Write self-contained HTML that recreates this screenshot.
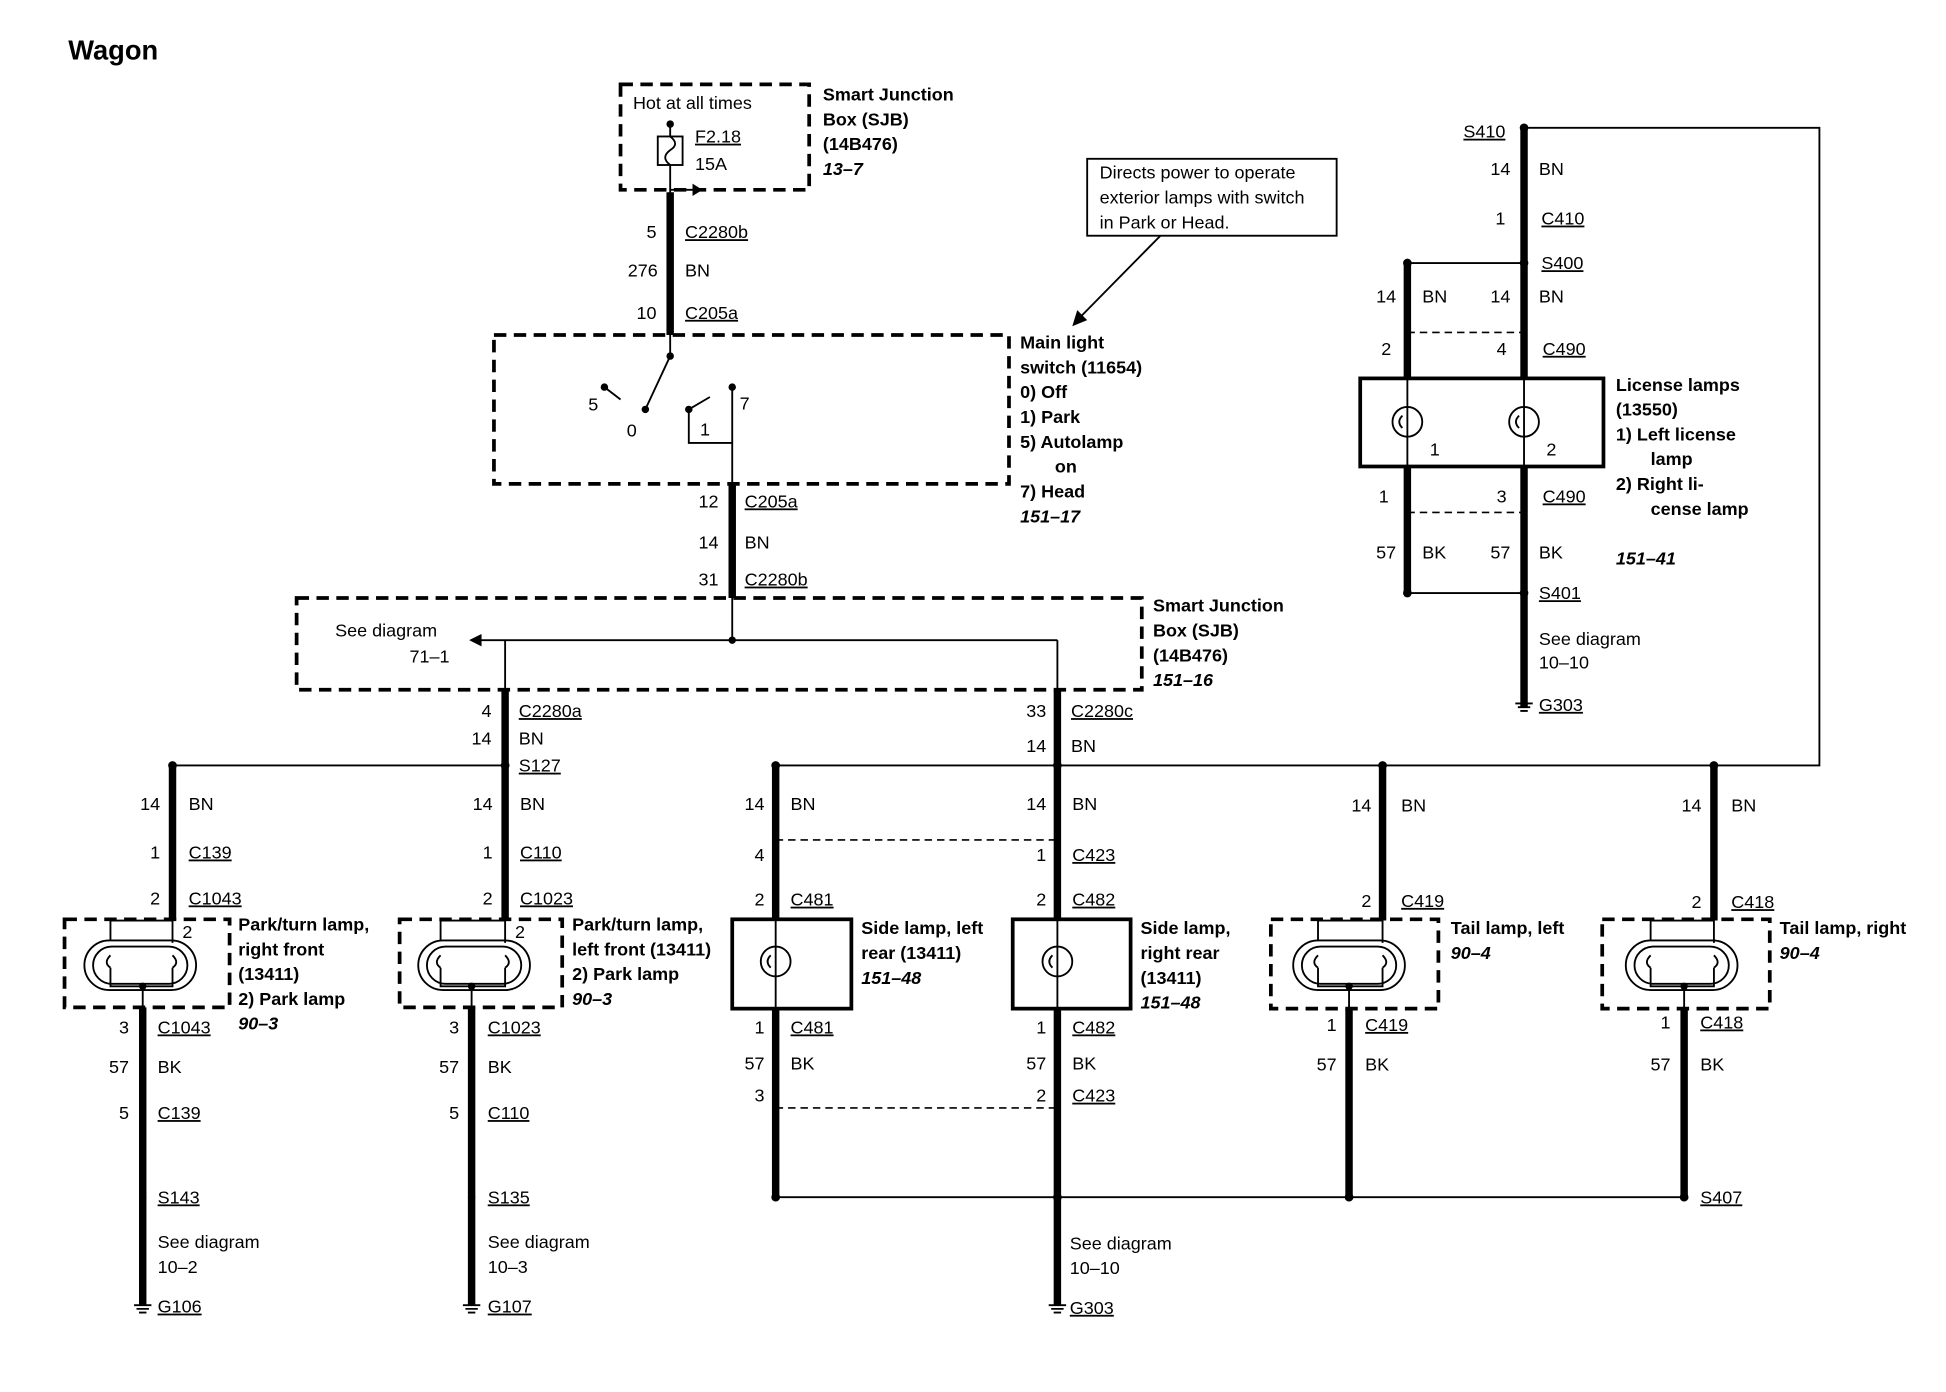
<!DOCTYPE html>
<html><head><meta charset="utf-8"><style>
html,body{margin:0;padding:0;background:#fff}
svg{display:block}
text{font-family:"Liberation Sans",sans-serif;font-size:14.5px;fill:#000}
.b{font-weight:bold}
.i{font-weight:bold;font-style:italic}
.u{text-decoration:underline}
.r{text-anchor:end}
.th{stroke:#000;stroke-width:6;fill:none}
.tn{stroke:#000;stroke-width:1.5;fill:none}
.ds{stroke:#000;stroke-width:3;fill:none;stroke-dasharray:10 6}
.dt{stroke:#000;stroke-width:1.3;fill:none;stroke-dasharray:6 4}
.bx{stroke:#000;stroke-width:3;fill:none}
</style></head><body>
<svg width="1946" height="1392" viewBox="0 0 1568 1122" preserveAspectRatio="none" xmlns="http://www.w3.org/2000/svg">
<text x="55" y="48" class="b" style="font-size:22px">Wagon</text>

<!-- top SJB -->
<rect x="500" y="68" width="152" height="85" class="ds"/>
<text x="510" y="88">Hot at all times</text>
<line x1="540" y1="100" x2="540" y2="110" class="tn"/>
<circle cx="540" cy="100" r="3"/>
<rect x="530" y="110" width="20" height="23" class="tn"/>
<path d="M540 110 q8 6 0 11 q-8 6 0 12" class="tn"/>
<line x1="540" y1="133" x2="540" y2="270" class="tn"/>
<line x1="540" y1="153" x2="562" y2="153" class="tn"/><path d="M558 148 L566 153 L558 158 Z"/>
<text x="560" y="115" class="u">F2.18</text><text x="560" y="137">15A</text>
<text x="663" y="81" class="b">Smart Junction</text>
<text x="663" y="101" class="b">Box (SJB)</text>
<text x="663" y="121" class="b">(14B476)</text>
<text x="663" y="141" class="i">13–7</text>
<line x1="540" y1="155" x2="540" y2="270" class="th"/>
<text x="529" y="192" class="r">5</text><text x="552" y="192" class="u">C2280b</text>
<text x="530" y="223" class="r">276</text><text x="552" y="223">BN</text>
<text x="529" y="257" class="r">10</text><text x="552" y="257" class="u">C205a</text>

<!-- callout -->
<rect x="876" y="128" width="201" height="62" class="tn"/>
<text x="886" y="144">Directs power to operate</text>
<text x="886" y="164">exterior lamps with switch</text>
<text x="886" y="184">in Park or Head.</text>
<line x1="935" y1="190" x2="870" y2="256" class="tn"/><path d="M864 263 L868 250 L876 258 Z"/>

<!-- main switch -->
<rect x="398" y="270" width="415" height="120" class="ds"/>
<line x1="540" y1="270" x2="540" y2="287" class="tn"/>
<line x1="540" y1="287" x2="520" y2="330" class="tn"/>
<circle cx="540" cy="287" r="3"/><circle cx="520" cy="330" r="3"/>
<circle cx="487" cy="312" r="3"/><line x1="487" y1="312" x2="500" y2="322" class="tn"/>
<circle cx="555" cy="330" r="3"/><circle cx="590" cy="312" r="3"/>
<line x1="555" y1="330" x2="572" y2="320" class="tn"/>
<polyline points="555,330 555,357 590,357" class="tn"/>
<line x1="590" y1="312" x2="590" y2="390" class="tn"/>
<text x="474" y="331">5</text><text x="505" y="352">0</text><text x="564" y="351">1</text><text x="596" y="330">7</text>
<text x="822" y="281" class="b">Main light</text>
<text x="822" y="301" class="b">switch (11654)</text>
<text x="822" y="321" class="b">0)   Off</text>
<text x="822" y="341" class="b">1)   Park</text>
<text x="822" y="361" class="b">5)   Autolamp</text>
<text x="850" y="381" class="b">on</text>
<text x="822" y="401" class="b">7)   Head</text>
<text x="822" y="421" class="i">151–17</text>
<line x1="590" y1="390" x2="590" y2="482" class="th"/>
<line x1="590" y1="482" x2="590" y2="516" class="tn"/>
<text x="579" y="409" class="r">12</text><text x="600" y="409" class="u">C205a</text>
<text x="579" y="442" class="r">14</text><text x="600" y="442">BN</text>
<text x="579" y="472" class="r">31</text><text x="600" y="472" class="u">C2280b</text>

<!-- SJB 2 -->
<rect x="239" y="482" width="681" height="74" class="ds"/>
<text x="270" y="513">See diagram</text><text x="330" y="534">71–1</text>
<line x1="385" y1="516" x2="852" y2="516" class="tn"/><path d="M378 516 L388 511 L388 521 Z"/>
<circle cx="590" cy="516" r="3"/>
<line x1="407" y1="516" x2="407" y2="556" class="tn"/>
<line x1="852" y1="516" x2="852" y2="556" class="tn"/>
<text x="929" y="493" class="b">Smart Junction</text>
<text x="929" y="513" class="b">Box (SJB)</text>
<text x="929" y="533" class="b">(14B476)</text>
<text x="929" y="553" class="i">151–16</text>
<line x1="407" y1="556" x2="407" y2="617" class="th"/>
<text x="396" y="578" class="r">4</text><text x="418" y="578" class="u">C2280a</text>
<text x="396" y="600" class="r">14</text><text x="418" y="600">BN</text>
<text x="418" y="622" class="u">S127</text>
<line x1="852" y1="556" x2="852" y2="617" class="th"/>
<text x="843" y="578" class="r">33</text><text x="863" y="578" class="u">C2280c</text>
<text x="843" y="606" class="r">14</text><text x="863" y="606">BN</text>

<!-- bus -->
<line x1="139" y1="617" x2="407" y2="617" class="tn"/>
<polyline points="625,617 1466,617 1466,103 1228,103" class="tn"/>
<g><circle cx="139" cy="617" r="3.5"/><circle cx="407" cy="617" r="3.5"/><circle cx="625" cy="617" r="3.5"/><circle cx="852" cy="617" r="3.5"/><circle cx="1114" cy="617" r="3.5"/><circle cx="1381" cy="617" r="3.5"/><circle cx="1228" cy="103" r="3.5"/></g>

<!-- col 139 -->
<line x1="139" y1="617" x2="139" y2="742" class="th"/>
<text x="129" y="653" class="r">14</text><text x="152" y="653">BN</text>
<text x="129" y="692" class="r">1</text><text x="152" y="692" class="u">C139</text>
<text x="129" y="729" class="r">2</text><text x="152" y="729" class="u">C1043</text>
<rect x="52" y="741" width="133" height="71" class="ds"/>
<polyline points="89,758 89,742 139,742 139,760" class="tn"/>
<rect x="68" y="758" width="90" height="40" rx="20" class="tn"/>
<rect x="75" y="763" width="76" height="30" rx="15" class="tn"/>
<path d="M89 770 q-6 6 0 10 M139 770 q6 6 0 10" class="tn"/>
<polyline points="89,780 89,795 139,795 139,780" class="tn"/>
<text x="147" y="756">2</text>
<circle cx="115" cy="795" r="3"/>
<line x1="115" y1="795" x2="115" y2="812" class="tn"/>
<line x1="115" y1="812" x2="115" y2="1052" class="th"/>
<text x="192" y="750" class="b">Park/turn lamp,</text>
<text x="192" y="770" class="b">right front</text>
<text x="192" y="790" class="b">(13411)</text>
<text x="192" y="810" class="b">2)   Park lamp</text>
<text x="192" y="830" class="i">90–3</text>
<text x="104" y="833" class="r">3</text><text x="127" y="833" class="u">C1043</text>
<text x="104" y="865" class="r">57</text><text x="127" y="865">BK</text>
<text x="104" y="902" class="r">5</text><text x="127" y="902" class="u">C139</text>
<circle cx="115" cy="965" r="3"/>
<text x="127" y="970" class="u">S143</text>
<text x="127" y="1006">See diagram</text><text x="127" y="1026">10–2</text>
<text x="127" y="1058" class="u">G106</text>
<path d="M108 1052 h14 M110 1055 h10 M112 1058 h6" class="tn"/>

<!-- col 407 -->
<line x1="407" y1="617" x2="407" y2="742" class="th"/>
<text x="397" y="653" class="r">14</text><text x="419" y="653">BN</text>
<text x="397" y="692" class="r">1</text><text x="419" y="692" class="u">C110</text>
<text x="397" y="729" class="r">2</text><text x="419" y="729" class="u">C1023</text>
<rect x="322" y="741" width="131" height="71" class="ds"/>
<polyline points="355,758 355,742 407,742 407,760" class="tn"/>
<rect x="337" y="758" width="90" height="40" rx="20" class="tn"/>
<rect x="344" y="763" width="76" height="30" rx="15" class="tn"/>
<path d="M355 770 q-6 6 0 10 M407 770 q6 6 0 10" class="tn"/>
<polyline points="355,780 355,795 407,795 407,780" class="tn"/>
<text x="415" y="756">2</text>
<circle cx="380" cy="795" r="3"/>
<line x1="380" y1="795" x2="380" y2="812" class="tn"/>
<line x1="380" y1="812" x2="380" y2="1052" class="th"/>
<text x="461" y="750" class="b">Park/turn lamp,</text>
<text x="461" y="770" class="b">left front (13411)</text>
<text x="461" y="790" class="b">2)   Park lamp</text>
<text x="461" y="810" class="i">90–3</text>
<text x="370" y="833" class="r">3</text><text x="393" y="833" class="u">C1023</text>
<text x="370" y="865" class="r">57</text><text x="393" y="865">BK</text>
<text x="370" y="902" class="r">5</text><text x="393" y="902" class="u">C110</text>
<circle cx="380" cy="965" r="3"/>
<text x="393" y="970" class="u">S135</text>
<text x="393" y="1006">See diagram</text><text x="393" y="1026">10–3</text>
<text x="393" y="1058" class="u">G107</text>
<path d="M373 1052 h14 M375 1055 h10 M377 1058 h6" class="tn"/>

<!-- col 625 -->
<line x1="625" y1="617" x2="625" y2="741" class="th"/>
<text x="616" y="653" class="r">14</text><text x="637" y="653">BN</text>
<text x="616" y="694" class="r">4</text>
<line x1="625" y1="677" x2="852" y2="677" class="dt"/>
<text x="616" y="730" class="r">2</text><text x="637" y="730" class="u">C481</text>
<rect x="590" y="741" width="96" height="72" class="bx"/>
<line x1="625" y1="741" x2="625" y2="813" class="tn"/>
<circle cx="625" cy="775" r="12" class="tn"/>
<path d="M621 770 q-5 5 0 10" class="tn"/>
<text x="694" y="753" class="b">Side lamp, left</text>
<text x="694" y="773" class="b">rear (13411)</text>
<text x="694" y="793" class="i">151–48</text>
<line x1="625" y1="813" x2="625" y2="965" class="th"/>
<text x="616" y="833" class="r">1</text><text x="637" y="833" class="u">C481</text>
<text x="616" y="862" class="r">57</text><text x="637" y="862">BK</text>
<text x="616" y="888" class="r">3</text>
<line x1="625" y1="893" x2="852" y2="893" class="dt"/>

<!-- col 852 -->
<line x1="852" y1="617" x2="852" y2="741" class="th"/>
<text x="843" y="653" class="r">14</text><text x="864" y="653">BN</text>
<text x="843" y="694" class="r">1</text><text x="864" y="694" class="u">C423</text>
<text x="843" y="730" class="r">2</text><text x="864" y="730" class="u">C482</text>
<rect x="816" y="741" width="95" height="72" class="bx"/>
<line x1="852" y1="741" x2="852" y2="813" class="tn"/>
<circle cx="852" cy="775" r="12" class="tn"/>
<path d="M848 770 q-5 5 0 10" class="tn"/>
<text x="919" y="753" class="b">Side lamp,</text>
<text x="919" y="773" class="b">right rear</text>
<text x="919" y="793" class="b">(13411)</text>
<text x="919" y="813" class="i">151–48</text>
<line x1="852" y1="813" x2="852" y2="1052" class="th"/>
<text x="843" y="833" class="r">1</text><text x="864" y="833" class="u">C482</text>
<text x="843" y="862" class="r">57</text><text x="864" y="862">BK</text>
<text x="843" y="888" class="r">2</text><text x="864" y="888" class="u">C423</text>
<text x="862" y="1007">See diagram</text><text x="862" y="1027">10–10</text>
<text x="862" y="1059" class="u">G303</text>
<path d="M845 1052 h14 M847 1055 h10 M849 1058 h6" class="tn"/>

<!-- col 1114 -->
<line x1="1114" y1="617" x2="1114" y2="742" class="th"/>
<text x="1105" y="654" class="r">14</text><text x="1129" y="654">BN</text>
<text x="1105" y="731" class="r">2</text><text x="1129" y="731" class="u">C419</text>
<rect x="1024" y="741" width="135" height="72" class="ds"/>
<polyline points="1062,758 1062,742 1114,742 1114,760" class="tn"/>
<rect x="1042" y="758" width="90" height="40" rx="20" class="tn"/>
<rect x="1049" y="763" width="76" height="30" rx="15" class="tn"/>
<path d="M1062 770 q-6 6 0 10 M1114 770 q6 6 0 10" class="tn"/>
<polyline points="1062,780 1062,795 1114,795 1114,780" class="tn"/>
<circle cx="1087" cy="795" r="3"/>
<line x1="1087" y1="795" x2="1087" y2="813" class="tn"/>
<line x1="1087" y1="813" x2="1087" y2="965" class="th"/>
<text x="1169" y="753" class="b">Tail lamp, left</text>
<text x="1169" y="773" class="i">90–4</text>
<text x="1077" y="831" class="r">1</text><text x="1100" y="831" class="u">C419</text>
<text x="1077" y="863" class="r">57</text><text x="1100" y="863">BK</text>

<!-- col 1381 -->
<line x1="1381" y1="617" x2="1381" y2="742" class="th"/>
<text x="1371" y="654" class="r">14</text><text x="1395" y="654">BN</text>
<text x="1371" y="732" class="r">2</text><text x="1395" y="732" class="u">C418</text>
<rect x="1291" y="741" width="135" height="72" class="ds"/>
<polyline points="1330,758 1330,742 1381,742 1381,760" class="tn"/>
<rect x="1310" y="758" width="90" height="40" rx="20" class="tn"/>
<rect x="1317" y="763" width="76" height="30" rx="15" class="tn"/>
<path d="M1330 770 q-6 6 0 10 M1381 770 q6 6 0 10" class="tn"/>
<polyline points="1330,780 1330,795 1381,795 1381,780" class="tn"/>
<circle cx="1357" cy="795" r="3"/>
<line x1="1357" y1="795" x2="1357" y2="813" class="tn"/>
<line x1="1357" y1="813" x2="1357" y2="965" class="th"/>
<text x="1434" y="753" class="b">Tail lamp, right</text>
<text x="1434" y="773" class="i">90–4</text>
<text x="1346" y="829" class="r">1</text><text x="1370" y="829" class="u">C418</text>
<text x="1346" y="863" class="r">57</text><text x="1370" y="863">BK</text>
<text x="1370" y="970" class="u">S407</text>

<line x1="625" y1="965" x2="1357" y2="965" class="tn"/>
<g><circle cx="625" cy="965" r="3.5"/><circle cx="852" cy="965" r="3.5"/><circle cx="1087" cy="965" r="3.5"/><circle cx="1357" cy="965" r="3.5"/></g>

<!-- license -->
<text x="1213" y="111" class="r u">S410</text>
<line x1="1228" y1="103" x2="1228" y2="305" class="th"/>
<text x="1217" y="141" class="r">14</text><text x="1240" y="141">BN</text>
<text x="1213" y="181" class="r">1</text><text x="1242" y="181" class="u">C410</text>
<line x1="1134" y1="212" x2="1228" y2="212" class="tn"/>
<circle cx="1134" cy="212" r="3.5"/><circle cx="1228" cy="212" r="3.5"/>
<text x="1242" y="217" class="u">S400</text>
<line x1="1134" y1="212" x2="1134" y2="305" class="th"/>
<text x="1125" y="244" class="r">14</text><text x="1146" y="244">BN</text>
<text x="1217" y="244" class="r">14</text><text x="1240" y="244">BN</text>
<line x1="1134" y1="268" x2="1228" y2="268" class="dt"/>
<text x="1121" y="286" class="r">2</text><text x="1214" y="286" class="r">4</text><text x="1243" y="286" class="u">C490</text>
<rect x="1096" y="305" width="196" height="71" class="bx"/>
<line x1="1134" y1="305" x2="1134" y2="376" class="tn"/>
<line x1="1228" y1="305" x2="1228" y2="376" class="tn"/>
<circle cx="1134" cy="340" r="12" class="tn"/><circle cx="1228" cy="340" r="12" class="tn"/>
<path d="M1130 335 q-5 5 0 10 M1224 335 q-5 5 0 10" class="tn"/>
<text x="1152" y="367">1</text><text x="1246" y="367">2</text>
<line x1="1134" y1="376" x2="1134" y2="478" class="th"/>
<line x1="1228" y1="376" x2="1228" y2="570" class="th"/>
<text x="1119" y="405" class="r">1</text><text x="1214" y="405" class="r">3</text><text x="1243" y="405" class="u">C490</text>
<line x1="1134" y1="413" x2="1228" y2="413" class="dt"/>
<text x="1125" y="450" class="r">57</text><text x="1146" y="450">BK</text>
<text x="1217" y="450" class="r">57</text><text x="1240" y="450">BK</text>
<line x1="1134" y1="478" x2="1228" y2="478" class="tn"/>
<circle cx="1134" cy="478" r="3.5"/><circle cx="1228" cy="478" r="3.5"/>
<text x="1240" y="483" class="u">S401</text>
<text x="1240" y="520">See diagram</text><text x="1240" y="539">10–10</text>
<text x="1240" y="573" class="u">G303</text>
<path d="M1221 567 h14 M1223 570 h10 M1225 573 h6" class="tn"/>
<text x="1302" y="315" class="b">License lamps</text>
<text x="1302" y="335" class="b">(13550)</text>
<text x="1302" y="355" class="b">1)   Left license</text>
<text x="1330" y="375" class="b">lamp</text>
<text x="1302" y="395" class="b">2)   Right li-</text>
<text x="1330" y="415" class="b">cense lamp</text>
<text x="1302" y="455" class="i">151–41</text>
</svg>
</body></html>
